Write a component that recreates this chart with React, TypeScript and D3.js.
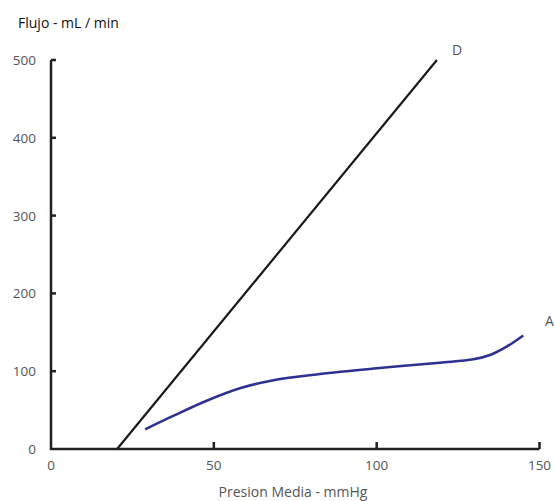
import React from 'react';
import * as d3 from 'd3';

const width = 554;
const height = 501;

// pressure (mmHg) vs flow (mL/min)
const presionD = [20.3, 118.5];
const flujoD = [0, 500];

const presionA = [28.9, 37.5, 47.8, 58, 68.3, 82.6, 100, 119.4, 129.7, 134.8, 139.9, 145];
const flujoA = [25.3, 42.5, 62, 78, 88.5, 96.4, 103.7, 110.9, 115.3, 120.8, 131.5, 146];

const xTicks = [0, 50, 100, 150];
const yTicks = [0, 100, 200, 300, 400, 500];

const font = '"Open Sans", "Noto Sans", sans-serif';

const App = () => {
  const x = d3.scaleLinear().domain([0, 150]).range([51, 539.5]);
  const y = d3.scaleLinear().domain([0, 500]).range([449, 60]);

  const line = d3.line<[number, number]>()
    .x(d => x(d[0]))
    .y(d => y(d[1]));

  const curveA = d3.line<[number, number]>()
    .x(d => x(d[0]))
    .y(d => y(d[1]))
    .curve(d3.curveCatmullRom.alpha(0.5));

  const dataD = presionD.map((p, i) => [p, flujoD[i]] as [number, number]);
  const dataA = presionA.map((p, i) => [p, flujoA[i]] as [number, number]);

  return (
    <svg width={width} height={height} style={{ position: 'absolute', left: 0, top: 0, background: '#fff' }}>
      <text x={18} y={28} fontFamily={font} fontSize={14} fill="#111">Flujo - mL / min</text>

      {/* axes */}
      <path
        d={`M${x(0)},${y(500)}V${y(0)}H${x(150)}`}
        fill="none" stroke="#231f20" strokeWidth={2.5}
      />
      {yTicks.map(t => (
        <g key={'y' + t}>
          {t > 0 && <line x1={x(0)} x2={x(0) + 5} y1={y(t)} y2={y(t)} stroke="#231f20" strokeWidth={2.5} />}
          <text x={36} y={y(t) + 5} textAnchor="end" fontFamily={font} fontSize={13.5} fill="#555">{t}</text>
        </g>
      ))}
      {xTicks.map(t => (
        <g key={'x' + t}>
          {t > 0 && <line x1={x(t)} x2={x(t)} y1={y(0)} y2={y(0) - 7} stroke="#231f20" strokeWidth={2.5} />}
          <text x={x(t)} y={470} textAnchor="middle" fontFamily={font} fontSize={13.5} fill="#555">{t}</text>
        </g>
      ))}
      <text x={293} y={497} textAnchor="middle" fontFamily={font} fontSize={14} fill="#555">Presion Media - mmHg</text>

      <path d={line(dataD) || ''} fill="none" stroke="#1a1a1a" strokeWidth={2.2} />
      <path d={curveA(dataA) || ''} fill="none" stroke="#2e3192" strokeWidth={2.5} />

      <text x={452} y={55} fontFamily={font} fontSize={14} fill="#555">D</text>
      <text x={545} y={326} fontFamily={font} fontSize={14} fill="#555">A</text>
    </svg>
  );
};

export default App;
